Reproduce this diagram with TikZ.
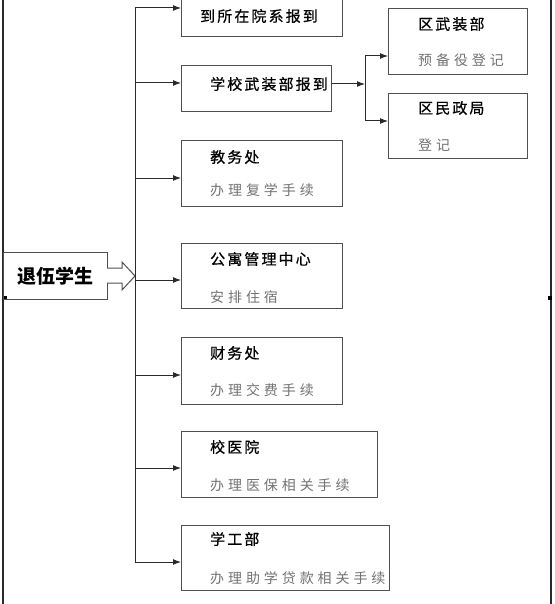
\documentclass[tikz,border=0pt]{standalone}
\usepackage{fontspec}
\newfontfamily\cjk{Noto Sans CJK SC}
\usetikzlibrary{arrows.meta}
\definecolor{linegray}{HTML}{2A2A2A}
\definecolor{boxgray}{HTML}{505050}
\definecolor{subgray}{HTML}{727272}
\begin{document}
\begin{tikzpicture}[x=1pt, y=-1pt, font=\cjk,
        box/.style={draw=boxgray, line width=1.1pt, anchor=north west,
                    inner sep=0pt, minimum height=66pt},
        ttl/.style={anchor=west, inner sep=0pt, text=black,
                    font=\cjk\fontsize{15pt}{18pt}\selectfont\addfontfeature{LetterSpace=14,FakeBold=0.6}},
        sub/.style={anchor=west, inner sep=0pt, text=subgray,
                    font=\cjk\fontsize{14pt}{17pt}\selectfont\addfontfeature{LetterSpace=28}},
        link/.style={draw=linegray, line width=1pt},
        tip/.style={-{Latex[length=8pt,width=6pt]}}]
      \useasboundingbox (0,0) rectangle (554,604);
      \clip (0,0) rectangle (554,604);
      % Cadre
      \draw[link, line width=1.2pt] (3,0) -- (3,604);
      \draw[link, line width=1.2pt] (551,0) -- (551,604);
      \fill[black] (3,296) rectangle (7,300);
      \fill[black] (548,296) rectangle (552,300);
      % Depart
      \node[box, minimum width=104pt, minimum height=47pt,
            font=\cjk\bfseries\fontsize{19pt}{22pt}\selectfont] (tw) at (3,252) {退伍学生};
      \draw[boxgray, line width=1pt, fill=white]
            (107,268) -- (122,268) -- (122,262) -- (135,276)
            -- (122,290) -- (122,283) -- (107,283);
      % Colonne gauche
      \node[box, minimum width=161pt, minimum height=46pt] (yx) at (181,-10) {};
      \node[box, minimum width=150pt, minimum height=46pt] (xb) at (181,65) {};
      \node[box, minimum width=161pt] (jw) at (181,140) {};
      \node[box, minimum width=161pt, minimum height=65pt] (gy) at (181,243) {};
      \node[box, minimum width=161pt, minimum height=67pt] (cw) at (181,337) {};
      \node[box, minimum width=196pt] (yy) at (181,431) {};
      \node[box, minimum width=208pt, minimum height=65pt] (xg) at (181,525) {};
      % Colonne droite
      \node[box, minimum width=139pt] (qwz) at (388,8) {};
      \node[box, minimum width=139pt, minimum height=65pt] (qmz) at (388,93) {};
      % Textes
      \node[ttl] (yx-t) at (200,16) {到所在院系报到};
      \node[ttl] (xb-t) at (210,84) {学校武装部报到};
      \node[ttl] (jw-t) at (210,157) {教务处};
      \node[sub] (jw-s) at (210,190) {办理复学手续};
      \node[ttl] (gy-t) at (210,259) {公寓管理中心};
      \node[sub] (gy-s) at (210,297) {安排住宿};
      \node[ttl] (cw-t) at (210,353) {财务处};
      \node[sub] (cw-s) at (210,390) {办理交费手续};
      \node[ttl] (yy-t) at (210,447) {校医院};
      \node[sub] (yy-s) at (210,485) {办理医保相关手续};
      \node[ttl] (xg-t) at (210,539) {学工部};
      \node[sub] (xg-s) at (210,578) {办理助学贷款相关手续};
      \node[ttl] (qwz-t) at (418,24) {区武装部};
      \node[sub] (qwz-s) at (418,60) {预备役登记};
      \node[ttl] (qmz-t) at (418,108) {区民政局};
      \node[sub] (qmz-s) at (418,145) {登记};
      % Bus vertical
      \coordinate (bt) at (135,8);
      \coordinate (bb) at (135,562);
      \draw[link] (bt) -- (bb);
      \foreach \n/\y in {yx/8, xb/83, jw/178, gy/280, cw/375, yy/468, xg/562} {
        \coordinate (j-\n) at (135,\y);
        \draw[link, tip] (j-\n) -- (j-\n -| \n.west);
      }
      % Branche droite
      \coordinate (rj) at (365,84);
      \coordinate (rt) at (365,56);
      \coordinate (rb) at (365,121);
      \draw[link, tip] (xb.east |- rj) -- (rj);
      \draw[link] (rt) -- (rb);
      \draw[link, tip] (rt) -- (rt -| qwz.west);
      \draw[link, tip] (rb) -- (rb -| qmz.west);
    \end{tikzpicture}
\end{document}
